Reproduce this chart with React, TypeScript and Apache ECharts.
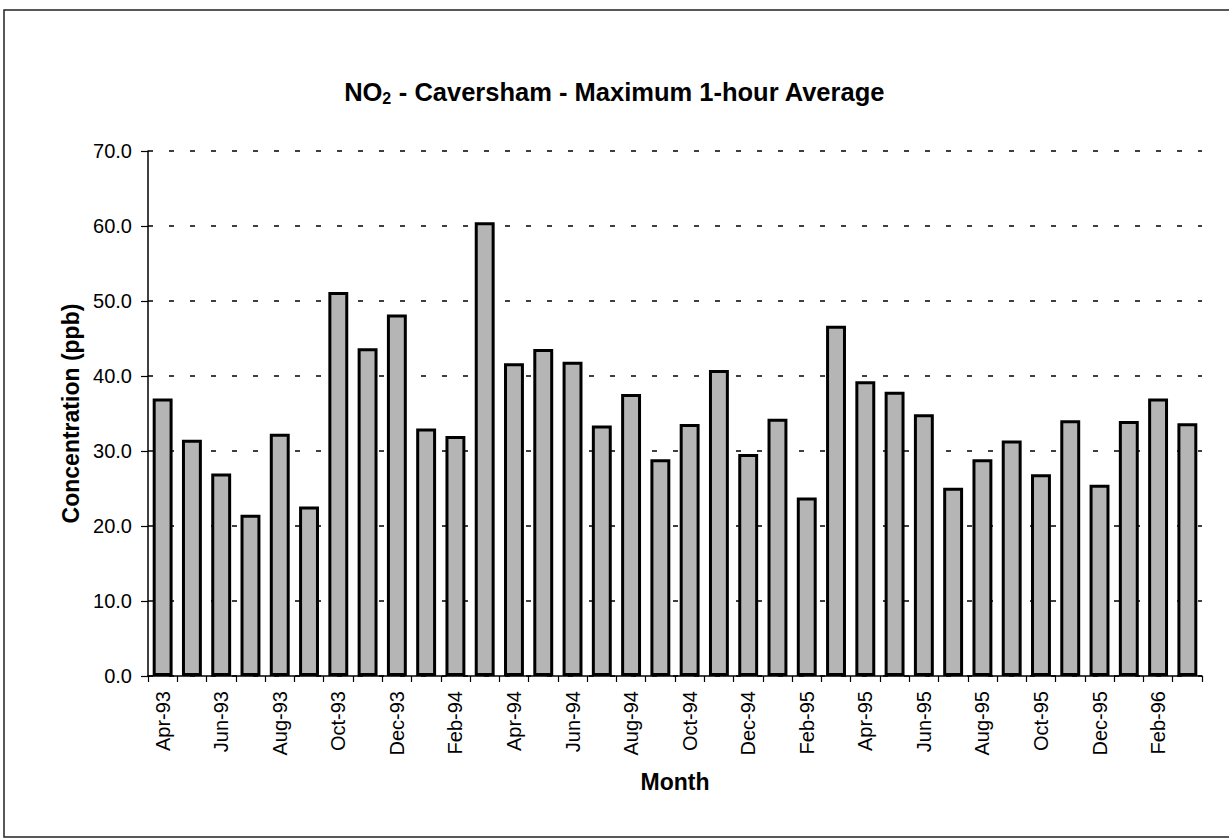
import React, { useEffect, useRef } from "react";
import * as echarts from "echarts";

const months = [
  "Apr-93", "May-93", "Jun-93", "Jul-93", "Aug-93", "Sep-93", "Oct-93", "Nov-93", "Dec-93",
  "Jan-94", "Feb-94", "Mar-94", "Apr-94", "May-94", "Jun-94", "Jul-94", "Aug-94", "Sep-94",
  "Oct-94", "Nov-94", "Dec-94", "Jan-95", "Feb-95", "Mar-95", "Apr-95", "May-95", "Jun-95",
  "Jul-95", "Aug-95", "Sep-95", "Oct-95", "Nov-95", "Dec-95", "Jan-96", "Feb-96", "Mar-96",
];

const no2Max = [
  37.0, 31.5, 27.0, 21.5, 32.3, 22.6, 51.2, 43.7, 48.2,
  33.0, 32.0, 60.5, 41.7, 43.6, 41.9, 33.4, 37.6, 28.9,
  33.6, 40.8, 29.6, 34.3, 23.8, 46.7, 39.3, 37.9, 34.9,
  25.1, 28.9, 31.4, 26.9, 34.1, 25.5, 34.0, 37.0, 33.7,
];

const yTicks = { min: 0, max: 70, interval: 10 };

const FONT = "'Liberation Sans', Arial, Helvetica, sans-serif";

export default function App() {
  const ref = useRef<HTMLDivElement>(null);

  useEffect(() => {
    if (!ref.current) return;
    const chart = echarts.init(ref.current, null, { renderer: "svg" });
    chart.setOption({
      animation: false,
      backgroundColor: "#ffffff",
      title: {
        text: "{a|NO}{b|2}{a| - Caversham - Maximum 1-hour Average}",
        left: "center",
        top: 71,
        textStyle: {
          rich: {
            a: { fontFamily: FONT, fontWeight: "bold", fontSize: 25.5, color: "#000", lineHeight: 32 },
            b: { fontFamily: FONT, fontWeight: "bold", fontSize: 16, color: "#000", padding: [12, 0, 0, 0], lineHeight: 32 },
          },
        },
      },
      graphic: [
        {
          type: "rect",
          shape: { x: 4, y: 10, width: 1240, height: 827 },
          style: { fill: "none", stroke: "#222", lineWidth: 1.5 },
          silent: true,
        },
      ],
      grid: { left: 148, right: 27, top: 151, bottom: 163, containLabel: false },
      xAxis: {
        type: "category",
        data: months,
        boundaryGap: true,
        name: "Month",
        nameLocation: "middle",
        nameGap: 94,
        nameTextStyle: { fontFamily: FONT, fontWeight: "bold", fontSize: 23, color: "#000" },
        axisLine: { lineStyle: { color: "#000", width: 1.5 } },
        axisTick: { show: true, interval: 0, length: 6, lineStyle: { color: "#000", width: 1.2 } },
        axisLabel: {
          interval: 1,
          rotate: 90,
          margin: 15,
          fontFamily: FONT,
          fontSize: 20,
          color: "#000",
        },
        splitLine: { show: false },
      },
      yAxis: {
        type: "value",
        min: yTicks.min,
        max: yTicks.max,
        interval: yTicks.interval,
        name: "Concentration (ppb)",
        nameLocation: "middle",
        nameGap: 49,
        nameTextStyle: { fontFamily: FONT, fontWeight: "bold", fontSize: 23, color: "#000" },
        axisLine: { show: true, lineStyle: { color: "#000", width: 1.5 } },
        axisTick: { show: true, length: 7, lineStyle: { color: "#000", width: 1.2 } },
        axisLabel: {
          formatter: (v: number) => v.toFixed(1),
          fontFamily: FONT,
          fontSize: 20,
          color: "#000",
          margin: 16,
        },
        splitLine: {
          show: true,
          lineStyle: { color: "#000", type: [5, 16], width: 1.5 },
        },
      },
      series: [
        {
          type: "bar",
          data: no2Max,
          barCategoryGap: "32%",
          itemStyle: { color: "#b5b5b5", borderColor: "#000", borderWidth: 3 },
        },
      ],
    });
    return () => chart.dispose();
  }, []);

  return (
    <div
      ref={ref}
      style={{ position: "fixed", left: 0, top: 0, width: 1229, height: 839 }}
    />
  );
}
